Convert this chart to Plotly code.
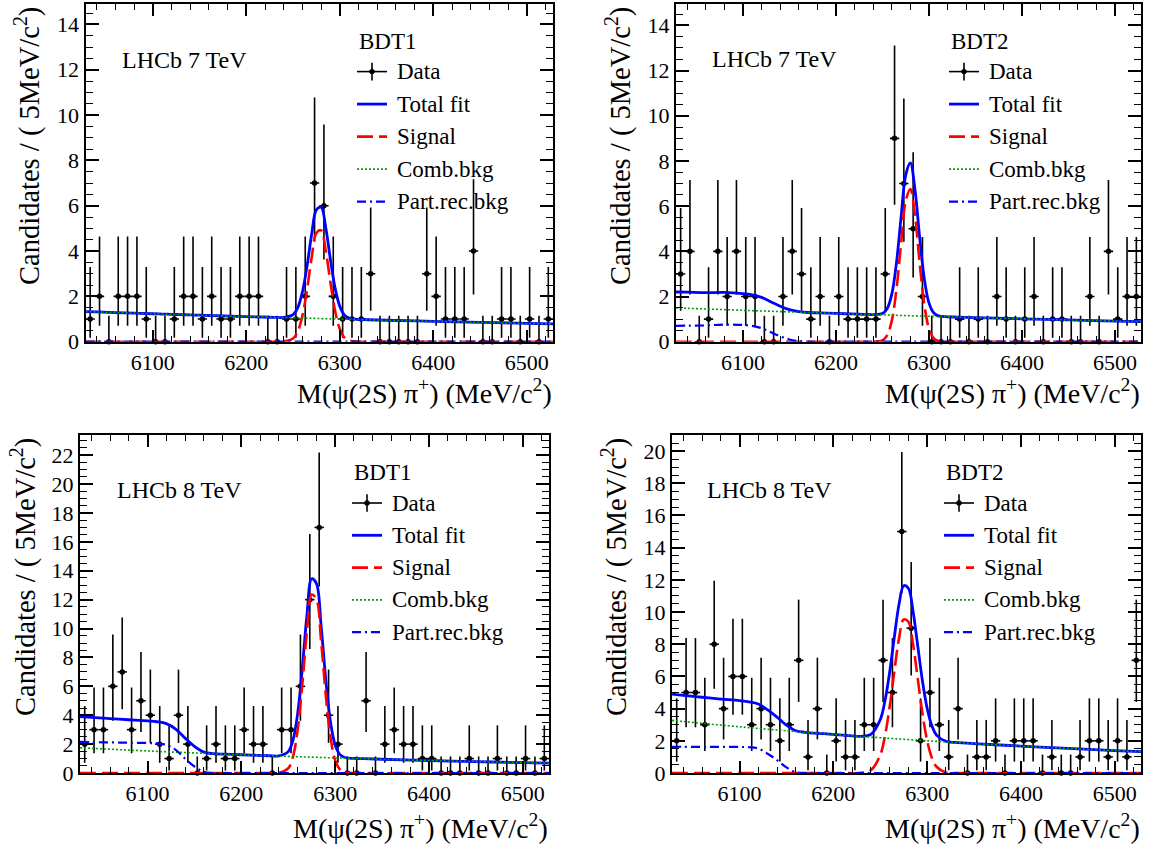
import plotly.graph_objects as go

W, H = 1160, 852

# ---------------- data ----------------
BIN_LO = 6028
BIN_W = 10
N_BINS = 50
bin_centers = [BIN_LO + BIN_W * (i + 0.5) for i in range(N_BINS)]

COUNTS_7TEV_BDT1 = [1, 2, 0, 2, 2, 2, 1, 0, 0, 1, 2, 2, 1, 2, 1, 1, 2, 2, 2, 0,
                    0, 1, 1, 2, 7, 6, 2, 1, 1, 1, 3, 0, 0, 0, 0, 0, 3, 2, 1, 1,
                    1, 4, 0, 0, 1, 1, 0, 1, 0, 1]
COUNTS_7TEV_BDT2 = [3, 4, 0, 1, 4, 2, 4, 2, 2, 0, 0, 2, 4, 3, 1, 2, 0, 2, 1, 1,
                    1, 1, 3, 9, 7, 5, 2, 0, 0, 0, 1, 0, 1, 0, 2, 1, 0, 1, 2, 0,
                    1, 1, 0, 0, 2, 0, 4, 1, 2, 2]
COUNTS_8TEV_BDT1 = [2, 3, 3, 6, 7, 3, 5, 4, 2, 1, 4, 2, 0, 1, 2, 1, 1, 3, 2, 2,
                    0, 3, 3, 6, 12, 17, 4, 2, 0, 0, 5, 0, 2, 3, 2, 2, 1, 1, 0, 0,
                    0, 1, 0, 0, 1, 0, 0, 1, 0, 1]
COUNTS_8TEV_BDT2 = [2, 5, 5, 3, 8, 4, 6, 6, 3, 4, 3, 2, 3, 7, 1, 4, 0, 2, 1, 1,
                    3, 3, 7, 5, 15, 9, 2, 5, 3, 1, 4, 0, 1, 1, 2, 0, 2, 2, 2, 0,
                    1, 0, 0, 1, 2, 2, 1, 2, 1, 7]

# Poisson 68% interval half-widths for n = 0..17
POIS_LO = [0.0, 0.827, 1.292, 1.633, 1.914, 2.159, 2.379, 2.581, 2.768, 2.943,
           3.108, 3.265, 3.415, 3.559, 3.697, 3.831, 3.961, 4.087]
POIS_HI = [1.148, 2.299, 2.637, 2.918, 3.162, 3.382, 3.583, 3.770, 3.945, 4.109,
           4.265, 4.412, 4.553, 4.688, 4.818, 4.944, 5.064, 5.181]

# fit curves read at these masses
FIT_X = [6028, 6040, 6060, 6080, 6100, 6110, 6120, 6130, 6140, 6150, 6160, 6170,
         6190, 6210, 6230, 6240, 6250, 6255, 6260, 6265, 6270, 6275, 6280, 6285,
         6290, 6295, 6300, 6305, 6310, 6320, 6330, 6350, 6400, 6450, 6500, 6528]

COMB_7TEV_BDT1 = [1.33, 1.313, 1.286, 1.259, 1.233, 1.22, 1.207, 1.194, 1.182, 1.17,
                  1.157, 1.145, 1.121, 1.098, 1.075, 1.064, 1.053, 1.047, 1.042, 1.036,
                  1.031, 1.025, 1.02, 1.015, 1.009, 1.004, 0.999, 0.993, 0.988, 0.978,
                  0.968, 0.947, 0.899, 0.853, 0.809, 0.785]
COMB_7TEV_BDT2 = [1.5, 1.481, 1.45, 1.42, 1.39, 1.376, 1.361, 1.347, 1.333, 1.319,
                  1.305, 1.292, 1.265, 1.238, 1.212, 1.2, 1.187, 1.181, 1.175, 1.169,
                  1.163, 1.156, 1.15, 1.144, 1.138, 1.132, 1.126, 1.12, 1.115, 1.103,
                  1.091, 1.068, 1.014, 0.962, 0.912, 0.886]
COMB_8TEV_BDT1 = [1.75, 1.711, 1.647, 1.587, 1.528, 1.499, 1.471, 1.444, 1.417, 1.39,
                  1.364, 1.339, 1.289, 1.241, 1.195, 1.173, 1.151, 1.14, 1.13, 1.119,
                  1.108, 1.098, 1.088, 1.077, 1.067, 1.057, 1.047, 1.038, 1.028, 1.009,
                  0.99, 0.953, 0.867, 0.789, 0.718, 0.681]
COMB_8TEV_BDT2 = [3.27, 3.2, 3.087, 2.977, 2.872, 2.821, 2.77, 2.721, 2.672, 2.624,
                  2.577, 2.531, 2.442, 2.355, 2.272, 2.231, 2.191, 2.172, 2.152, 2.133,
                  2.114, 2.095, 2.076, 2.058, 2.039, 2.021, 2.003, 1.985, 1.967, 1.932,
                  1.897, 1.83, 1.672, 1.528, 1.396, 1.328]

PART_7TEV_BDT1 = [0.0] * 36
PART_7TEV_BDT2 = [0.70, 0.71, 0.72, 0.76, 0.74, 0.70, 0.60, 0.42, 0.24, 0.10, 0.03, 0.0,
                  0, 0, 0, 0, 0, 0, 0, 0, 0, 0, 0, 0, 0, 0, 0, 0, 0, 0, 0, 0, 0, 0, 0, 0]
PART_8TEV_BDT1 = [2.15, 2.14, 2.12, 2.10, 2.08, 2.05, 1.95, 1.60, 1.00, 0.45, 0.08, 0.0,
                  0, 0, 0, 0, 0, 0, 0, 0, 0, 0, 0, 0, 0, 0, 0, 0, 0, 0, 0, 0, 0, 0, 0, 0]
PART_8TEV_BDT2 = [1.63, 1.63, 1.62, 1.62, 1.62, 1.60, 1.52, 1.20, 0.80, 0.35, 0.05, 0.0,
                  0, 0, 0, 0, 0, 0, 0, 0, 0, 0, 0, 0, 0, 0, 0, 0, 0, 0, 0, 0, 0, 0, 0, 0]

SIG_7TEV_BDT1 = [0, 0, 0, 0, 0, 0, 0, 0, 0, 0, 0, 0, 0, 0, 0, 0.01, 0.14, 0.45, 1.15, 2.32,
                 3.74, 4.8, 4.91, 4.0, 2.6, 1.35, 0.56, 0.18, 0.05, 0, 0, 0, 0, 0, 0, 0]
SIG_7TEV_BDT2 = [0, 0, 0, 0, 0, 0, 0, 0, 0, 0, 0, 0, 0, 0, 0, 0, 0.06, 0.28, 0.92, 2.3,
                 4.34, 6.22, 6.76, 5.57, 3.48, 1.65, 0.59, 0.16, 0.03, 0, 0, 0, 0, 0, 0, 0]
SIG_8TEV_BDT1 = [0, 0, 0, 0, 0, 0, 0, 0, 0, 0, 0, 0, 0, 0, 0, 0.01, 0.33, 1.12, 2.97, 6.13,
                 9.86, 12.35, 12.04, 9.15, 5.41, 2.49, 0.89, 0.25, 0.05, 0, 0, 0, 0, 0, 0, 0]
SIG_8TEV_BDT2 = [0, 0, 0, 0, 0, 0, 0, 0, 0, 0, 0, 0, 0, 0, 0.01, 0.17, 1.12, 2.3, 4.1, 6.3,
                 8.35, 9.54, 9.4, 7.98, 5.85, 3.7, 2.02, 0.95, 0.39, 0.04, 0, 0, 0, 0, 0, 0]

ENERGY_LABELS = ["LHCb 7 TeV", "LHCb 7 TeV", "LHCb 8 TeV", "LHCb 8 TeV"]
BDT_LABELS = ["BDT1", "BDT2", "BDT1", "BDT2"]
LEGEND_NAMES = ["Data", "Total fit", "Signal", "Comb.bkg", "Part.rec.bkg"]
X_TITLE = "M(ψ(2S) π<sup>+</sup>) (MeV/c<sup>2</sup>)"
Y_TITLE = "Candidates / ( 5MeV/c<sup>2</sup>)"
X_RANGE = [6028, 6528]
Y_MAX = [14.9, 14.95, 23.4, 21.0]

# ---------------- layout (pixels) ----------------
FONT = "Liberation Serif"
C_BLUE = "#0000ff"
C_RED = "#ff0000"
C_GREEN = "#00a000"

panels = [
    dict(counts=COUNTS_7TEV_BDT1, comb=COMB_7TEV_BDT1, part=PART_7TEV_BDT1, sig=SIG_7TEV_BDT1,
         box=(85.5, 553, 4, 347), lhcb=(120, 61), leg=(357, 395, 41.7, 33.0), ytx=28, xty=51),
    dict(counts=COUNTS_7TEV_BDT2, comb=COMB_7TEV_BDT2, part=PART_7TEV_BDT2, sig=SIG_7TEV_BDT2,
         box=(676, 1141, 4, 347), lhcb=(710, 60), leg=(949, 987, 41.7, 33.0), ytx=619, xty=51),
    dict(counts=COUNTS_8TEV_BDT1, comb=COMB_8TEV_BDT1, part=PART_8TEV_BDT1, sig=SIG_8TEV_BDT1,
         box=(80, 549, 441.7, 785), lhcb=(115, 498), leg=(352, 390, 480, 32.8), ytx=24, xty=54),
    dict(counts=COUNTS_8TEV_BDT2, comb=COMB_8TEV_BDT2, part=PART_8TEV_BDT2, sig=SIG_8TEV_BDT2,
         box=(672, 1141, 441.7, 785), lhcb=(705, 498), leg=(944, 982, 480, 32.8), ytx=615, xty=54),
]


def px(x):
    return x / W


def py(y):
    return 1 - y / H


fig = go.Figure()
annotations = []
shapes = []
layout_axes = {}

for k, p in enumerate(panels):
    n = k + 1
    xa = "x" if n == 1 else f"x{n}"
    ya = "y" if n == 1 else f"y{n}"
    x0, x1, y0, y1 = p["box"]

    counts = p["counts"]
    lo = [POIS_LO[c] for c in counts]
    hi = [POIS_HI[c] for c in counts]
    total = [c + q + s for c, q, s in zip(p["comb"], p["part"], p["sig"])]

    fig.add_trace(go.Scatter(
        x=bin_centers, y=counts, mode="markers", xaxis=xa, yaxis=ya,
        marker=dict(color="black", size=5.5, symbol="circle"),
        error_y=dict(type="data", symmetric=False, array=hi, arrayminus=lo,
                     color="black", thickness=1.6, width=0),
        error_x=dict(type="constant", value=BIN_W / 2, color="black", thickness=1.6, width=0),
        cliponaxis=False, showlegend=False, hoverinfo="skip"))

    fig.add_trace(go.Scatter(x=FIT_X, y=total, mode="lines", xaxis=xa, yaxis=ya,
                             line=dict(color=C_BLUE, width=2.8, shape="spline"),
                             showlegend=False))
    fig.add_trace(go.Scatter(x=FIT_X, y=p["sig"], mode="lines", xaxis=xa, yaxis=ya,
                             line=dict(color=C_RED, width=2.6, dash="16px,6px", shape="spline"),
                             showlegend=False))
    fig.add_trace(go.Scatter(x=FIT_X, y=p["comb"], mode="lines", xaxis=xa, yaxis=ya,
                             line=dict(color=C_GREEN, width=1.6, dash="2px,2px", shape="spline"),
                             showlegend=False))
    fig.add_trace(go.Scatter(x=FIT_X, y=p["part"], mode="lines", xaxis=xa, yaxis=ya,
                             line=dict(color=C_BLUE, width=2.2, dash="9px,4px,2px,4px", shape="spline"),
                             showlegend=False))

    common = dict(showline=True, linecolor="black", linewidth=2, mirror="allticks",
                  ticks="inside", tickcolor="black", tickwidth=1.6, showgrid=False,
                  zeroline=False, tickfont=dict(family=FONT, size=22, color="black"))
    layout_axes["xaxis" if n == 1 else f"xaxis{n}"] = dict(
        domain=[px(x0), px(x1)], anchor=ya, range=X_RANGE, tick0=6100, dtick=100,
        ticklen=12, minor=dict(dtick=20, ticklen=6, tickcolor="black", tickwidth=1.4, ticks="inside"),
        **common)
    layout_axes["yaxis" if n == 1 else f"yaxis{n}"] = dict(
        domain=[py(y1), py(y0)], anchor=xa, range=[0, Y_MAX[k]], tick0=0, dtick=2,
        ticklen=13, minor=dict(dtick=0.5, ticklen=7, tickcolor="black", tickwidth=1.4, ticks="inside"),
        **common)

    # axis titles
    annotations.append(dict(text=X_TITLE, xref="paper", yref="paper", x=px(x1 + 1), y=py(y1 + p["xty"]),
                            xanchor="right", yanchor="middle", showarrow=False,
                            font=dict(family=FONT, size=28, color="black")))
    annotations.append(dict(text=Y_TITLE, xref="paper", yref="paper", x=px(p["ytx"]), y=py(y0 + 1),
                            xanchor="center", yanchor="top", textangle=-90, showarrow=False,
                            font=dict(family=FONT, size=28.5, color="black")))
    # LHCb label
    lx, ly = p["lhcb"]
    annotations.append(dict(text=ENERGY_LABELS[k], xref="paper", yref="paper", x=px(lx), y=py(ly),
                            xanchor="left", yanchor="middle", showarrow=False,
                            font=dict(family=FONT, size=24, color="black")))
    # legend
    sx0, tx, hy, dy = p["leg"]
    sx1 = sx0 + 30
    annotations.append(dict(text=BDT_LABELS[k], xref="paper", yref="paper", x=px(sx0), y=py(hy),
                            xanchor="left", yanchor="middle", showarrow=False,
                            font=dict(family=FONT, size=23, color="black")))
    styles = [None,
              dict(color=C_BLUE, width=2.8),
              dict(color=C_RED, width=2.6, dash="16px,6px"),
              dict(color=C_GREEN, width=1.6, dash="2px,2px"),
              dict(color=C_BLUE, width=2.2, dash="9px,4px,2px,4px")]
    for j, name in enumerate(LEGEND_NAMES):
        ry = hy + dy * (j + 1) - 2
        annotations.append(dict(text=name, xref="paper", yref="paper", x=px(tx), y=py(ry),
                                xanchor="left", yanchor="middle", showarrow=False,
                                font=dict(family=FONT, size=23, color="black")))
        if j == 0:
            cx = (sx0 + sx1) / 2
            shapes.append(dict(type="line", xref="paper", yref="paper", x0=px(sx0), x1=px(sx1),
                               y0=py(ry), y1=py(ry), line=dict(color="black", width=1.6)))
            shapes.append(dict(type="line", xref="paper", yref="paper", x0=px(cx), x1=px(cx),
                               y0=py(ry - 9), y1=py(ry + 9), line=dict(color="black", width=1.6)))
            shapes.append(dict(type="circle", xref="paper", yref="paper", x0=px(cx - 2.7), x1=px(cx + 2.7),
                               y0=py(ry + 2.7), y1=py(ry - 2.7), fillcolor="black",
                               line=dict(color="black", width=0)))
        else:
            shapes.append(dict(type="line", xref="paper", yref="paper", x0=px(sx0), x1=px(sx1),
                               y0=py(ry), y1=py(ry), line=styles[j]))

fig.update_layout(width=W, height=H, margin=dict(l=0, r=0, t=0, b=0),
                  font=dict(family=FONT, color="black"),
                  paper_bgcolor="white", plot_bgcolor="white", showlegend=False,
                  annotations=annotations, shapes=shapes, **layout_axes)

fig.write_html("out.html", config={"displayModeBar": False},
               post_script="document.body.style.margin='0';")
